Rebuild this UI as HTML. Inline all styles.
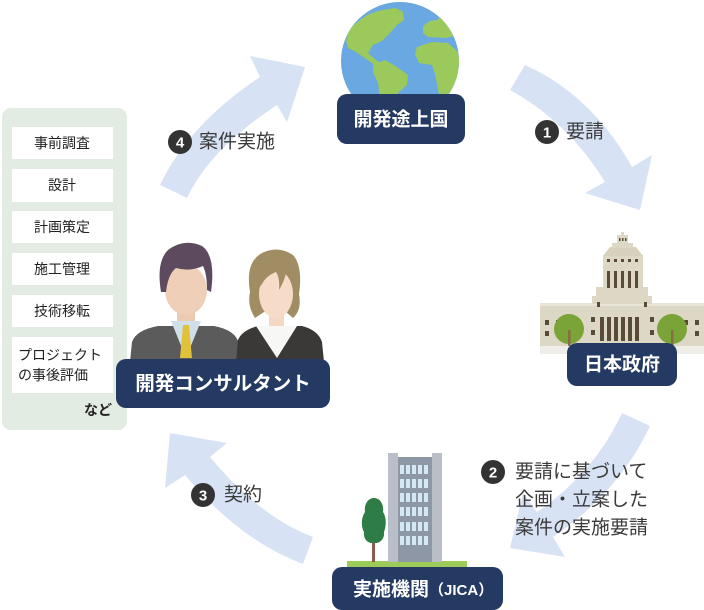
<!DOCTYPE html>
<html><head><meta charset="utf-8"><style>
html,body{margin:0;padding:0;background:#fff;}
body{width:704px;height:610px;overflow:hidden;}
svg{display:block;font-family:"Liberation Sans","Noto Sans CJK JP",sans-serif;}
</style></head><body>
<svg width="704" height="610" viewBox="0 0 704 610" xmlns="http://www.w3.org/2000/svg">
<defs>
<clipPath id="gc"><circle cx="400" cy="61" r="59"/></clipPath>
</defs>

<!-- arrows -->
<g fill="#d7e3f4">
<path d="M525,65 Q592,95 632,167 L652,155 L640,210 L585,193 L605,182 Q568,122 510,90 Z"/>
<path d="M622,413 L650,426 Q619,492 553,537 L565,557 L510,548 L523,493 L537,512 Q594,473 622,413 Z"/>
<path d="M303,564 Q239,540 185,475 L165,488 L170,433 L227,443 L210,457 Q260,517 313,537 Z"/>
<path d="M160,185 Q189,124 260,77 L250,56 L305,67 L287,122 L277,105 Q210,149 187,198 Z"/>
</g>

<!-- left panel -->
<rect x="2" y="108" width="125" height="322" rx="9" fill="#e3ece3"/>
<g fill="#fff">
<rect x="12" y="127" width="101" height="32"/>
<rect x="12" y="169" width="101" height="33"/>
<rect x="12" y="211" width="101" height="32"/>
<rect x="12" y="253" width="101" height="32"/>
<rect x="12" y="295" width="101" height="32"/>
<rect x="12" y="337" width="101" height="56"/>
</g>
<g font-size="14" fill="#222" text-anchor="middle" dominant-baseline="central">
<text x="62" y="143">事前調査</text>
<text x="62" y="185">設計</text>
<text x="62" y="227">計画策定</text>
<text x="62" y="269">施工管理</text>
<text x="62" y="311">技術移転</text>
</g>
<g font-size="14" fill="#222" dominant-baseline="central">
<text x="18" y="355">プロジェクト</text>
<text x="18" y="375">の事後評価</text>
</g>
<text x="112" y="410" font-size="14" font-weight="bold" fill="#222" text-anchor="end" dominant-baseline="central">など</text>

<!-- globe -->
<circle cx="400" cy="61" r="59" fill="#6aa8e1"/>
<g clip-path="url(#gc)" fill="#9bc95b">
<path d="M346,40 L350,28 L360,20 L367,15 L378,11 L388,9 L396,8 L403,12 L404,20 L397,25 L390,33 L382,41 L373,45 L368,53 L377,61 L384,63 L378,67 L366,59 L356,52 L348,48 Z"/>
<path d="M373,65 L385,60 L397,67 L408,75 L407,85 L398,93 L390,102 L384,110 L380,100 L378,83 L373,72 Z"/>
<path d="M423,26 L430,21 L437,20 L442,16 L450,24 L455,36 L445,38 L428,37 L423,33 Z"/>
<path d="M417,47 L432,42 L448,43 L458,52 L460,70 L452,90 L447,100 L440,100 L435,74 L432,65 L419,63 L415,54 Z"/>
</g>
<rect x="337" y="94" width="128" height="50" rx="10" fill="#243a63"/>
<text x="401" y="120" font-size="19" font-weight="bold" fill="#fff" text-anchor="middle" dominant-baseline="central">開発途上国</text>

<!-- government building -->
<g>
<rect x="540" y="303" width="164" height="46" fill="#ddd8c6"/>
<rect x="540" y="346" width="164" height="8" fill="#eeede8"/>
<rect x="540" y="303" width="164" height="3" fill="#e8e4d7"/>
<rect x="592" y="296" width="60" height="8" fill="#ddd8c6"/>
<rect x="596" y="287" width="52" height="10" fill="#ddd8c6"/>
<rect x="603" y="255" width="40" height="33" fill="#ddd8c6"/>
<polygon points="603,256 610,247 636,247 643,256" fill="#d6d0bc"/>
<rect x="612" y="243" width="21" height="5" fill="#ddd8c6"/>
<rect x="617" y="235" width="11" height="9" fill="#ddd8c6"/>
<rect x="621" y="232" width="3" height="4" fill="#ddd8c6"/>
<g fill="#5a4a38">
<rect x="619" y="238" width="1.5" height="3"/><rect x="622" y="238" width="1.5" height="3"/><rect x="625" y="238" width="1.5" height="3"/>
<rect x="607" y="259" width="3" height="3"/><rect x="614" y="259" width="3" height="3"/><rect x="621" y="259" width="3" height="3"/><rect x="628" y="259" width="3" height="3"/><rect x="635" y="259" width="3" height="3"/>
<rect x="607" y="271" width="3" height="17"/><rect x="614" y="271" width="3" height="17"/><rect x="621" y="271" width="3" height="17"/><rect x="628" y="271" width="3" height="17"/><rect x="635" y="271" width="3" height="17"/>
<rect x="597" y="302" width="3" height="5"/><rect x="644" y="302" width="3" height="5"/>
<rect x="600" y="317" width="4" height="24"/><rect x="607" y="317" width="4" height="24"/><rect x="614" y="317" width="4" height="24"/><rect x="621" y="317" width="4" height="24"/><rect x="628" y="317" width="4" height="24"/><rect x="635" y="317" width="4" height="24"/>
<rect x="545" y="320" width="4" height="5"/><rect x="545" y="331" width="4" height="5"/>
<rect x="556" y="320" width="4" height="5"/>
<rect x="591" y="317" width="4" height="5"/><rect x="591" y="330" width="4" height="5"/>
<rect x="650" y="317" width="4" height="5"/><rect x="650" y="330" width="4" height="5"/>
<rect x="684" y="320" width="4" height="5"/>
<rect x="695" y="320" width="4" height="5"/><rect x="695" y="331" width="4" height="5"/>
</g>
<circle cx="569" cy="329" r="15" fill="#7aa338"/>
<circle cx="672" cy="329" r="15" fill="#7aa338"/>
<rect x="568" y="330" width="2.5" height="16" fill="#8a6b45"/>
<rect x="671" y="330" width="2.5" height="16" fill="#8a6b45"/>
</g>
<rect x="567" y="343" width="110" height="43" rx="10" fill="#243a63"/>
<text x="622" y="365" font-size="19" font-weight="bold" fill="#fff" text-anchor="middle" dominant-baseline="central">日本政府</text>

<!-- JICA building -->
<rect x="347" y="561" width="120" height="6" fill="#9ccb5a"/>
<rect x="388" y="453" width="10" height="109" fill="#b9bec8"/>
<rect x="432" y="453" width="10" height="109" fill="#b9bec8"/>
<rect x="398" y="457" width="34" height="105" fill="#8e97a6"/>
<g fill="#d3e8f3">
<rect x="400" y="465" width="4" height="9"/><rect x="406" y="465" width="4" height="9"/><rect x="412" y="465" width="4" height="9"/><rect x="418" y="465" width="4" height="9"/><rect x="424" y="465" width="4" height="9"/>
<rect x="400" y="479" width="4" height="9"/><rect x="406" y="479" width="4" height="9"/><rect x="412" y="479" width="4" height="9"/><rect x="418" y="479" width="4" height="9"/><rect x="424" y="479" width="4" height="9"/>
<rect x="400" y="493" width="4" height="9"/><rect x="406" y="493" width="4" height="9"/><rect x="412" y="493" width="4" height="9"/><rect x="418" y="493" width="4" height="9"/><rect x="424" y="493" width="4" height="9"/>
<rect x="400" y="507" width="4" height="9"/><rect x="406" y="507" width="4" height="9"/><rect x="412" y="507" width="4" height="9"/><rect x="418" y="507" width="4" height="9"/><rect x="424" y="507" width="4" height="9"/>
<rect x="400" y="522" width="4" height="9"/><rect x="406" y="522" width="4" height="9"/><rect x="412" y="522" width="4" height="9"/><rect x="418" y="522" width="4" height="9"/><rect x="424" y="522" width="4" height="9"/>
<rect x="400" y="536" width="4" height="9"/><rect x="406" y="536" width="4" height="9"/><rect x="412" y="536" width="4" height="9"/><rect x="418" y="536" width="4" height="9"/><rect x="424" y="536" width="4" height="9"/>
</g>
<rect x="372" y="536" width="3" height="26" fill="#8b5b4b"/>
<path d="M374,498 C381,498 384,506 383,512 C387,518 386,527 384,532 C385,540 378,544 374,543 C369,544 363,540 364,532 C361,527 361,518 365,512 C364,506 367,498 374,498 Z" fill="#2e7d46"/>
<rect x="332" y="567" width="171" height="43" rx="10" fill="#243a63"/>
<text x="353" y="590" font-size="19" font-weight="bold" fill="#fff" dominant-baseline="central">実施機関<tspan font-size="15">（JICA）</tspan></text>

<!-- people -->
<!-- man -->
<path d="M130,362 L132,342 Q136,330 158,326 L214,326 Q236,330 239,344 L241,362 Z" fill="#5b5b5b"/>
<rect x="177" y="300" width="18" height="24" fill="#eccbb4"/>
<polygon points="171,321 201,321 186,358" fill="#cfe0ea"/>
<polygon points="183,325 189,325 192,358 180,358" fill="#e1c13a"/>
<ellipse cx="186" cy="290" rx="21" ry="25" fill="#efcfb8"/>
<path d="M161,292 Q156,262 168,250 Q184,238 202,246 Q216,256 211,292 L207,290 Q207,274 203,266 Q190,272 176,268 Q168,274 166,292 Z" fill="#5e4a5f"/>
<!-- woman -->
<path d="M236,362 L238,340 Q242,330 258,326 L302,326 Q318,330 322,342 L324,362 Z" fill="#3b3937"/>
<rect x="269" y="305" width="15" height="22" fill="#f3d8c4"/>
<polygon points="256,326 297,326 277,358" fill="#f7f7f5"/>
<path d="M250,292 Q245,262 262,253 Q278,245 293,255 Q303,266 299,294 Q302,310 293,318 L286,312 L264,312 L255,318 Q247,306 250,292 Z" fill="#a18d63"/>
<ellipse cx="276" cy="294" rx="17" ry="24" fill="#f6dcc8"/>
<path d="M257,290 Q257,264 272,259 Q290,256 295,272 Q297,285 295,296 Q292,280 287,270 Q284,282 279,290 Q280,278 276,272 Q266,276 262,284 Q259,288 257,290 Z" fill="#a18d63"/>
<rect x="116" y="359" width="214" height="49" rx="10" fill="#243a63"/>
<text x="223" y="384" font-size="19.5" font-weight="bold" fill="#fff" text-anchor="middle" dominant-baseline="central">開発コンサルタント</text>

<!-- step labels -->
<g fill="#333">
<circle cx="547" cy="132" r="12"/>
<circle cx="493" cy="472" r="12"/>
<circle cx="203" cy="495" r="12"/>
<circle cx="180" cy="142" r="12"/>
</g>
<g fill="#fff" font-size="15" font-weight="bold" text-anchor="middle" dominant-baseline="central">
<text x="547" y="133">1</text>
<text x="493" y="473">2</text>
<text x="203" y="496">3</text>
<text x="180" y="143">4</text>
</g>
<g fill="#3a3a3a" font-size="19" dominant-baseline="central">
<text x="566" y="132">要請</text>
<text x="515" y="472">要請に基づいて</text>
<text x="515" y="500">企画・立案した</text>
<text x="515" y="528">案件の実施要請</text>
<text x="224" y="495">契約</text>
<text x="199" y="142">案件実施</text>
</g>
</svg>
</body></html>
